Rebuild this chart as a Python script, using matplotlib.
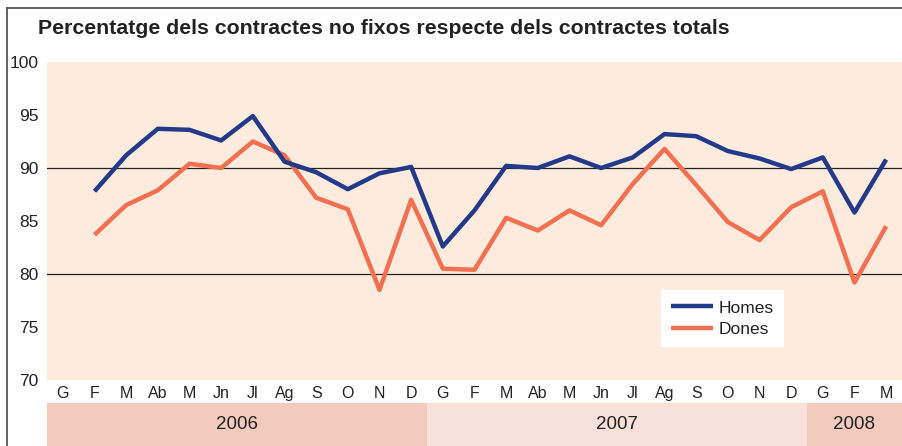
import matplotlib
matplotlib.use('Agg')
import matplotlib.pyplot as plt
from matplotlib.lines import Line2D

plt.rcParams['font.family'] = ['Liberation Sans', 'DejaVu Sans']

# months G 2006 .. M 2008 (27 slots)
months = ['G', 'F', 'M', 'Ab', 'M', 'Jn', 'Jl', 'Ag', 'S', 'O', 'N', 'D',
          'G', 'F', 'M', 'Ab', 'M', 'Jn', 'Jl', 'Ag', 'S', 'O', 'N', 'D',
          'G', 'F', 'M']
years = ['2006', '2007', '2008']
year_len = [12, 12, 3]

# data starts at F 2006
homes = [87.8, 91.2, 93.7, 93.6, 92.6, 94.9, 90.6, 89.6, 88.0, 89.5, 90.1,
         82.6, 86.0, 90.2, 90.0, 91.1, 90.0, 91.0, 93.2, 93.0, 91.6, 90.9, 89.9,
         91.0, 85.8, 90.8]
dones = [83.7, 86.5, 87.9, 90.4, 90.0, 92.5, 91.2, 87.2, 86.1, 78.5, 87.0,
         80.5, 80.4, 85.3, 84.1, 86.0, 84.6, 88.5, 91.8, 88.4, 84.9, 83.2, 86.3,
         87.8, 79.2, 84.5]

W, H = 903, 446
fig = plt.figure(figsize=(W / 100, H / 100), dpi=100)

def box(l, t, r, b):
    return [l / W, 1 - b / H, (r - l) / W, (b - t) / H]

peach = '#fdebde'
ax = fig.add_axes(box(47, 62, 902, 380))
ax.set_facecolor(peach)
for s in ax.spines.values():
    s.set_visible(False)

x = list(range(1, 1 + len(homes)))
for y in (80, 90):
    ax.axhline(y, color='#222222', lw=0.9, zorder=1)
ax.plot(x, homes, color='#233a8b', lw=3.2, solid_capstyle='butt', label='Homes', zorder=3)
ax.plot(x, dones, color='#f26f50', lw=3.2, solid_capstyle='butt', label='Dones', zorder=2)

ax.set_xlim(-0.5, len(months) - 0.5)
ax.set_ylim(70, 100)
ax.set_yticks(range(70, 101, 5))
ax.tick_params(axis='y', length=0, pad=6, labelsize=12.5, labelcolor='#222222')
ax.set_xticks(range(len(months)))
ax.set_xticklabels(months)
ax.tick_params(axis='x', length=0, pad=4, labelsize=11.5, labelcolor='#222222')

leg = ax.legend(loc='upper left', bbox_to_anchor=(0.718, 0.283), frameon=True,
                fancybox=False, fontsize=12.5, handlelength=2.4, handletextpad=0.3,
                labelspacing=0.35, borderpad=0.6, borderaxespad=0)
leg.get_frame().set_facecolor('white')
leg.get_frame().set_edgecolor('none')
leg.get_frame().set_alpha(1)
for t in leg.get_texts():
    t.set_color('#222222')

# year band
bax = fig.add_axes(box(47, 403, 902, 446))
bax.set_xlim(-0.5, len(months) - 0.5)
bax.set_ylim(0, 1)
bax.axis('off')
band_cols = ['#f3cbbd', '#f8e1d8', '#f3cbbd']
start = -0.5
for yr, n, c in zip(years, year_len, band_cols):
    bax.axvspan(start, start + n, color=c, lw=0)
    bax.text(start + n / 2, 0.5, yr, ha='center', va='center', fontsize=13.5,
             color='#222222')
    start += n

fig.text(38 / W, 1 - 29 / H, 'Percentatge dels contractes no fixos respecte dels contractes totals',
         fontsize=15.3, fontweight='bold', color='#222222', va='center', ha='left')

fig.add_artist(Line2D([7 / W, 7 / W], [0, 1 - 8 / H], color='#555555', lw=1.3))
fig.add_artist(Line2D([7 / W, 1], [1 - 8 / H, 1 - 8 / H], color='#555555', lw=1.3))

fig.savefig('out.png', dpi=100)
